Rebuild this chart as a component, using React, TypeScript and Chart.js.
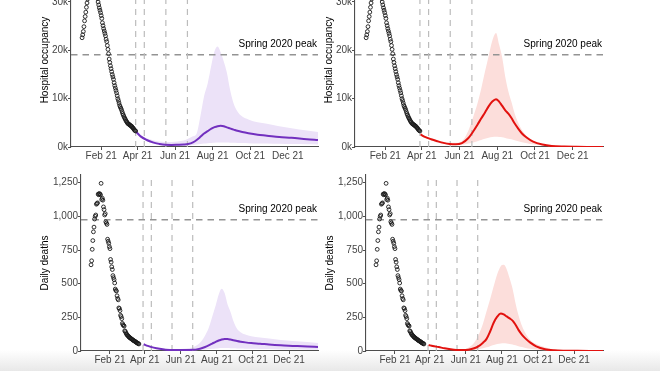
import React, { useEffect, useRef } from "react";
import { Chart, registerables } from "chart.js";

Chart.register(...registerables);

const FONT = '"Liberation Sans", Arial, Helvetica, sans-serif';

// ---------- data (x = days since 1 Jan 2021) ----------
const xMinDay = -18;
const xMaxDay = 383;
const xTickDays = [31, 90, 151, 212, 273, 334];
const xTickLabels = ["Feb 21", "Apr 21", "Jun 21", "Aug 21", "Oct 21", "Dec 21"];
const stepDays = [87, 101, 136, 171];

const hospTicks = [0, 10, 20, 30]; // thousands
const hospMax = 36;
const hospSpringPeak = 19.1;
const deathTicks = [0, 250, 500, 750, 1000, 1250];
const deathMax = 1307;
const deathSpringPeak = 975;
const peakLabel = "Spring 2020 peak";

const hospObsStartDay = 0;
const hospObserved = [
  22.6, 23.2, 23.9, 24.9, 26.1, 27.0, 27.9, 28.9, 29.8, 30.6,
  31.3, 32.0, 32.6, 33.0, 33.4, 33.8, 34.0, 34.3, 34.3, 34.1,
  33.7, 33.3, 32.7, 32.1, 31.5, 30.7, 30.0, 29.4, 28.8, 28.3,
  27.8, 27.2, 26.6, 25.7, 25.1, 24.5, 24.0, 23.5, 23.0, 22.3,
  21.8, 21.0, 20.2, 19.3, 18.2, 17.5, 16.8, 16.2, 15.6, 15.0,
  14.5, 14.0, 13.3, 12.7, 12.2, 11.7, 11.2, 10.6, 10.0, 9.6,
  9.1, 8.6, 8.3, 8.0, 7.7, 7.3, 6.9, 6.6, 6.3, 6.0,
  5.8, 5.5, 5.3, 5.1, 4.9, 4.8, 4.7, 4.6, 4.5, 4.4,
  4.3, 4.2, 4.0, 3.9, 3.7, 3.5, 3.4, 3.3,
];

const deathObsStartDay = -1;
const deathObserved = [
  640, 670, 755, 820, 885, 920, 980, 1000, 1010, 1090,
  1095, 1100, 1165, 1160, 1170, 1165, 1160, 1245, 1125, 1135,
  1120, 1070, 1050, 1010, 1020, 960, 950, 940, 830, 815,
  800, 775, 760, 680, 660, 625, 605, 560, 545, 530,
  505, 460, 450, 445, 410, 390, 380, 320, 315, 300,
  265, 255, 240, 205, 195, 190, 185, 150, 145, 135,
  125, 120, 115, 110, 105, 100, 98, 95, 90, 88,
  85, 80, 78, 75, 72, 70, 66, 62, 60, 57,
  55, 52,
];

const projDays = [88, 95, 105, 115, 125, 135, 145, 155, 165, 172, 180, 186, 192, 198, 204, 210, 215, 220, 225, 230, 235, 240, 246, 252, 260, 270, 285, 300, 320, 340, 365, 383];

const hospLineLeft = [3.1, 2.2, 1.45, 0.95, 0.65, 0.45, 0.42, 0.45, 0.5, 0.6, 0.95, 1.45, 2.1, 2.8, 3.3, 3.8, 4.1, 4.3, 4.38, 4.3, 4.05, 3.85, 3.6, 3.35, 3.1, 2.85, 2.55, 2.35, 2.05, 1.9, 1.6, 1.45];
const hospUpperLeft = [3.2, 2.5, 1.8, 1.4, 1.15, 1.05, 1.05, 1.15, 1.35, 1.7, 2.2, 2.8, 6.3, 10.5, 13.2, 17.0, 19.8, 20.8, 19.6, 17.7, 15.4, 12.0, 9.0, 7.4, 6.3, 5.7, 5.1, 4.8, 4.3, 3.9, 3.4, 3.1];
const hospLowerLeft = [3.0, 2.0, 1.2, 0.7, 0.45, 0.3, 0.25, 0.25, 0.25, 0.3, 0.4, 0.5, 0.6, 0.7, 0.8, 0.85, 0.9, 0.95, 0.95, 0.95, 0.95, 0.9, 0.9, 0.85, 0.85, 0.8, 0.75, 0.7, 0.65, 0.6, 0.55, 0.5];

const hospLineRight = [2.6, 2.1, 1.6, 1.2, 0.85, 0.62, 0.55, 0.8, 1.8, 3.0, 4.6, 5.9, 7.1, 8.4, 9.4, 9.9, 9.4, 8.5, 7.6, 6.9, 6.0, 4.9, 3.8, 2.8, 1.9, 1.1, 0.5, 0.2, 0.08, 0.04, 0.02, 0.01];
const hospUpperRight = [2.7, 2.3, 1.8, 1.4, 1.1, 0.9, 0.9, 1.2, 3.3, 5.8, 9.0, 12.0, 15.5, 18.8, 22.0, 23.6, 21.2, 18.5, 14.5, 11.5, 9.3, 7.0, 5.0, 3.5, 2.2, 1.1, 0.4, 0.15, 0.06, 0.03, 0.02, 0.01];
const hospLowerRight = [2.4, 1.9, 1.4, 1.0, 0.7, 0.5, 0.4, 0.45, 0.7, 0.9, 1.2, 1.45, 1.7, 1.9, 2.05, 2.1, 2.05, 2.0, 1.85, 1.7, 1.6, 1.4, 1.2, 1.0, 0.8, 0.55, 0.3, 0.15, 0.06, 0.03, 0.01, 0.005];

const deathLineLeft = [50, 38, 25, 16, 10, 8, 7, 7, 7.5, 9, 14, 20, 30, 42, 55, 68, 78, 86, 90, 89, 85, 80, 74, 69, 64, 59, 54, 48, 42, 38, 33, 30];
const deathUpperLeft = [55, 42, 30, 22, 17, 15, 15, 17, 22, 30, 48, 75, 115, 170, 255, 340, 420, 463, 430, 345, 290, 220, 165, 140, 122, 110, 100, 92, 82, 75, 66, 60];
const deathLowerLeft = [45, 33, 20, 12, 7, 5, 4, 4, 4, 5, 7, 9, 11, 14, 17, 19, 21, 22, 22, 22, 21, 20, 19, 18, 17, 16, 15, 14, 12, 11, 10, 9];

const deathLineRight = [44, 37, 29, 20, 13, 8, 7, 10, 20, 35, 62, 90, 145, 210, 255, 279, 272, 257, 242, 226, 195, 157, 120, 92, 62, 35, 13, 5, 2, 1, 0.5, 0.3];
const deathUpperRight = [48, 40, 32, 23, 16, 11, 12, 25, 62, 115, 205, 295, 385, 480, 570, 630, 640, 608, 540, 462, 355, 265, 185, 130, 82, 52, 28, 12, 5, 2, 1, 0.5];
const deathLowerRight = [40, 33, 25, 16, 10, 6, 4, 5, 8, 13, 20, 27, 36, 45, 52, 56, 57, 55, 52, 48, 42, 36, 29, 23, 17, 11, 6, 3, 1, 0.5, 0.2, 0.1];

// ---------- styles ----------
const PURPLE = "#7230bf";
const PURPLE_BAND = "#ece2f8";
const RED = "#e2120f";
const RED_BAND = "#fcdedb";

Chart.defaults.font.family = FONT;
Chart.defaults.font.size = 10;
Chart.defaults.color = "#4d4d4d";

const peakLabelPlugin = {
  id: "peakLabel",
  afterDatasetsDraw(chart: any, _args: any, opts: any) {
    const { ctx, chartArea, scales } = chart;
    const py = scales.y.getPixelForValue(opts.value);
    ctx.save();
    ctx.font = `10px ${FONT}`;
    ctx.fillStyle = "#000";
    ctx.textAlign = "right";
    ctx.textBaseline = "middle";
    ctx.fillText(opts.text, chartArea.right - 1, py - 10);
    ctx.restore();
  },
};

type PanelSpec = {
  top: number;
  height: number;
  padLeft: number;
  yWidth: number;
  padRight: number;
  padTop: number;
  xHeight: number;
  titlePad: number;
  yTitle: string;
  yMax: number;
  yTicks: number[];
  fmt: (v: number) => string;
  peak: number;
  obsStart: number;
  obs: number[];
  line: number[];
  upper: number[];
  lower: number[];
  color: string;
  band: string;
};

const seq = (start: number, arr: number[]) => arr.map((v, i) => ({ x: start + i, y: v }));
const proj = (arr: number[]) => projDays.map((d, i) => ({ x: d, y: arr[i] }));

function Panel({ s }: { s: PanelSpec }) {
  const ref = useRef<HTMLCanvasElement>(null);
  useEffect(() => {
    if (!ref.current) return;
    const axisColor = "#4d4d4d";
    const datasets: any[] = [
      {
        data: seq(s.obsStart, s.obs),
        showLine: false,
        pointRadius: 1.9,
        pointBorderWidth: 0.9,
        pointBorderColor: "#1a1a1a",
        pointBackgroundColor: "rgba(255,255,255,0)",
        order: 0,
      },
      {
        data: proj(s.line),
        borderColor: s.color,
        borderWidth: 2,
        pointRadius: 0,
        cubicInterpolationMode: "monotone",
        fill: false,
        order: 1,
      },
      ...stepDays.map((d) => ({
        data: [
          { x: d, y: 0 },
          { x: d, y: s.yMax },
        ],
        borderColor: "#bcbcbc",
        borderWidth: 1.2,
        borderDash: [6, 5],
        pointRadius: 0,
        fill: false,
        order: 2,
      })),
      {
        data: [
          { x: xMinDay, y: s.peak },
          { x: xMaxDay, y: s.peak },
        ],
        borderColor: "#939393",
        borderWidth: 1.4,
        borderDash: [6.5, 5],
        pointRadius: 0,
        fill: false,
        order: 2,
      },
      {
        data: proj(s.lower),
        borderColor: "rgba(0,0,0,0)",
        borderWidth: 0,
        pointRadius: 0,
        cubicInterpolationMode: "monotone",
        fill: false,
        order: 4,
      },
      {
        data: proj(s.upper),
        borderColor: "rgba(0,0,0,0)",
        borderWidth: 0,
        pointRadius: 0,
        cubicInterpolationMode: "monotone",
        backgroundColor: s.band,
        fill: "-1",
        order: 3,
      },
    ];

    const chart = new Chart(ref.current, {
      type: "line",
      data: { datasets },
      plugins: [peakLabelPlugin],
      options: {
        animation: false,
        responsive: false,
        devicePixelRatio: 1,
        events: [],
        layout: {
          padding: { left: s.padLeft, right: s.padRight, top: s.padTop, bottom: 0 },
        },
        plugins: {
          legend: { display: false },
          tooltip: { enabled: false },
          peakLabel: { value: s.peak, text: peakLabel },
        } as any,
        scales: {
          x: {
            type: "linear",
            min: xMinDay,
            max: xMaxDay,
            afterBuildTicks: (scale: any) => {
              scale.ticks = xTickDays.map((v) => ({ value: v }));
            },
            afterFit: (scale: any) => {
              scale.height = s.xHeight;
            },
            ticks: {
              autoSkip: false,
              maxRotation: 0,
              padding: 0,
              color: "#444",
              font: { size: 10, family: FONT },
              callback: (v: any) => xTickLabels[xTickDays.indexOf(Number(v))] ?? "",
            },
            grid: {
              drawOnChartArea: false,
              drawTicks: true,
              tickLength: 3,
              tickColor: axisColor,
              color: axisColor,
            },
            border: { display: true, color: axisColor, width: 1.1 },
          },
          y: {
            type: "linear",
            min: 0,
            max: s.yMax,
            afterBuildTicks: (scale: any) => {
              scale.ticks = s.yTicks.map((v) => ({ value: v }));
            },
            afterFit: (scale: any) => {
              scale.width = s.yWidth;
            },
            ticks: {
              padding: 0,
              color: "#444",
              font: { size: 10, family: FONT },
              callback: (v: any) => s.fmt(Number(v)),
            },
            grid: {
              drawOnChartArea: false,
              drawTicks: true,
              tickLength: 3,
              tickColor: axisColor,
              color: axisColor,
            },
            border: { display: true, color: axisColor, width: 1.1 },
            title: {
              display: true,
              text: s.yTitle,
              color: "#000",
              font: { size: 10, family: FONT },
              padding: { top: s.titlePad, bottom: 0 },
            },
          },
        },
      } as any,
    });
    return () => chart.destroy();
  }, [s]);

  return (
    <canvas
      ref={ref}
      width={660}
      height={s.height}
      style={{ position: "absolute", left: 0, top: s.top, width: 660, height: s.height }}
    />
  );
}

const fmtK = (v: number) => `${v}k`;
const fmtComma = (v: number) => v.toLocaleString("en-US");

const PANELS: PanelSpec[] = [
  {
    top: -40, height: 210, padLeft: 0, yWidth: 71, padRight: 342, padTop: 13, xHeight: 23, titlePad: 39,
    yTitle: "Hospital occupancy", yMax: hospMax, yTicks: hospTicks, fmt: fmtK, peak: hospSpringPeak,
    obsStart: hospObsStartDay, obs: hospObserved, line: hospLineLeft, upper: hospUpperLeft, lower: hospLowerLeft,
    color: PURPLE, band: PURPLE_BAND,
  },
  {
    top: -40, height: 210, padLeft: 300, yWidth: 55, padRight: 57, padTop: 13, xHeight: 23, titlePad: 23,
    yTitle: "Hospital occupancy", yMax: hospMax, yTicks: hospTicks, fmt: fmtK, peak: hospSpringPeak,
    obsStart: hospObsStartDay, obs: hospObserved, line: hospLineRight, upper: hospUpperRight, lower: hospLowerRight,
    color: RED, band: RED_BAND,
  },
  {
    top: 168, height: 203, padLeft: 0, yWidth: 81, padRight: 342, padTop: 7, xHeight: 20, titlePad: 39,
    yTitle: "Daily deaths", yMax: deathMax, yTicks: deathTicks, fmt: fmtComma, peak: deathSpringPeak,
    obsStart: deathObsStartDay, obs: deathObserved, line: deathLineLeft, upper: deathUpperLeft, lower: deathLowerLeft,
    color: PURPLE, band: PURPLE_BAND,
  },
  {
    top: 168, height: 203, padLeft: 300, yWidth: 66, padRight: 57, padTop: 7, xHeight: 20, titlePad: 24,
    yTitle: "Daily deaths", yMax: deathMax, yTicks: deathTicks, fmt: fmtComma, peak: deathSpringPeak,
    obsStart: deathObsStartDay, obs: deathObserved, line: deathLineRight, upper: deathUpperRight, lower: deathLowerRight,
    color: RED, band: RED_BAND,
  },
];

export default function App() {
  return (
    <div
      style={{
        position: "absolute",
        left: 0,
        top: 0,
        width: 660,
        height: 371,
        overflow: "hidden",
        background: "#fff",
      }}
    >
      <div
        style={{
          position: "absolute",
          left: 0,
          top: 350,
          width: 660,
          height: 21,
          background: "linear-gradient(to bottom, #ffffff, #e8e8e8)",
        }}
      />
      {PANELS.map((s, i) => (
        <Panel key={i} s={s} />
      ))}
    </div>
  );
}
